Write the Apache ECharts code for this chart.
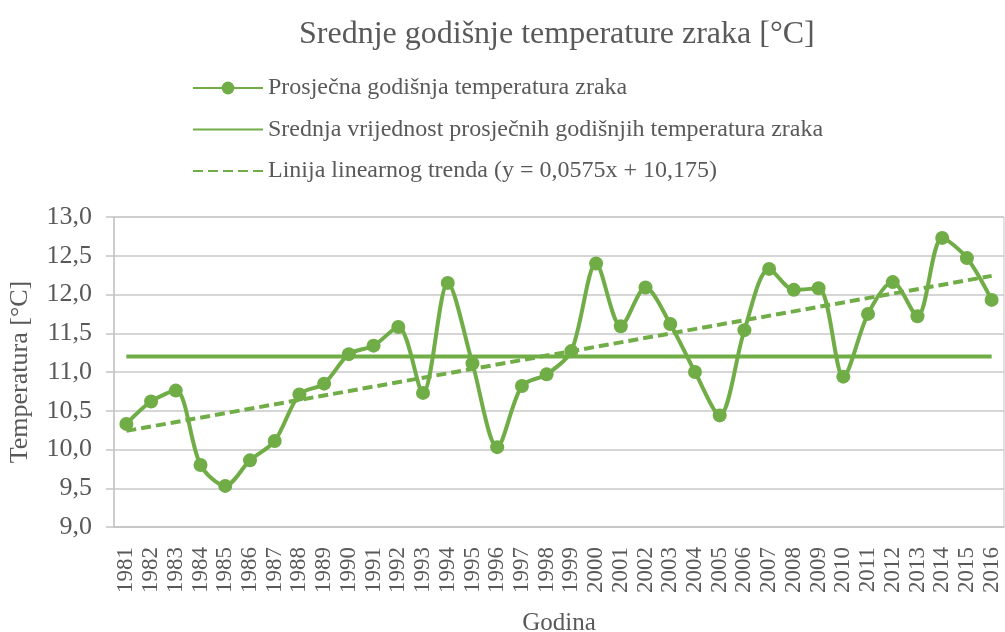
<!DOCTYPE html>
<html>
<head>
<meta charset="utf-8">
<script src="https://cdn.jsdelivr.net/npm/echarts@6/dist/echarts.min.js"></script>
<style>
  html, body { margin: 0; padding: 0; background: #fff; }
  #chart { width: 1005px; height: 632px; }
</style>
</head>
<body>
<div id="chart"></div>
<script>
// podaci
const years = ['1981', '1982', '1983', '1984', '1985', '1986', '1987', '1988', '1989', '1990',
  '1991', '1992', '1993', '1994', '1995', '1996', '1997', '1998', '1999', '2000',
  '2001', '2002', '2003', '2004', '2005', '2006', '2007', '2008', '2009', '2010',
  '2011', '2012', '2013', '2014', '2015', '2016']
const avgTemp = [10.33, 10.62, 10.76, 9.80, 9.53, 9.86, 10.11, 10.71, 10.85, 11.23,
  11.34, 11.58, 10.73, 12.15, 11.11, 10.03, 10.82, 10.97, 11.27, 12.40,
  11.59, 12.09, 11.62, 11.00, 10.44, 11.54, 12.33, 12.06, 12.08, 10.94,
  11.75, 12.16, 11.72, 12.73, 12.47, 11.93]
const meanTemp = 11.2
const trendEnds = [10.24, 12.24]  // prva i zadnja godina

const names = [
  'Prosječna godišnja temperatura zraka',
  'Srednja vrijednost prosječnih godišnjih temperatura zraka',
  'Linija linearnog trenda (y = 0,0575x + 10,175)'
]

const green = '#70AD47'
const gray = '#595959'
const serif = "'Liberation Serif', 'Times New Roman', serif"

const meanData = years.map(() => meanTemp)
const trendData = years.map((y, i) => i === 0 ? trendEnds[0] : (i === years.length - 1 ? trendEnds[1] : null))

var myChart = echarts.init(document.getElementById('chart'), null, { renderer: 'canvas' })
var option = {
  animation: false,
  backgroundColor: '#fff',
  title: {
    text: 'Srednje godišnje temperature zraka [°C]',
    left: 299,
    top: 19,
    padding: 0,
    textStyle: { fontFamily: serif, fontSize: 32, fontWeight: 'normal', color: gray }
  },
  legend: {
    orient: 'vertical',
    left: 192,
    top: 76,
    padding: 0,
    itemWidth: 70,
    itemHeight: 16,
    itemGap: 17.5,
    textStyle: { fontFamily: serif, fontSize: 24, color: gray },
    data: [
      { name: names[0] },
      { name: names[1], itemStyle: { color: 'transparent', borderWidth: 0 } },
      { name: names[2], itemStyle: { color: 'transparent', borderWidth: 0 } }
    ]
  },
  grid: {
    left: 114,
    right: 1,
    top: 217,
    bottom: 105,
    outerBoundsMode: 'none',
    containLabel: false,
    show: true,
    borderColor: '#c4c4c4',
    borderWidth: 1
  },
  xAxis: {
    type: 'category',
    data: years,
    name: 'Godina',
    nameLocation: 'middle',
    nameGap: 84,
    nameTextStyle: { fontFamily: serif, fontSize: 25, color: gray },
    axisLine: { lineStyle: { color: '#c4c4c4', width: 1.5 } },
    axisTick: { show: false },
    axisLabel: { rotate: 90, margin: 20, fontFamily: serif, fontSize: 23, color: gray, interval: 0 }
  },
  yAxis: {
    type: 'value',
    min: 9,
    max: 13,
    interval: 0.5,
    name: 'Temperatura [°C]',
    nameLocation: 'middle',
    nameGap: 81,
    nameRotate: 90,
    nameTextStyle: { fontFamily: serif, fontSize: 26, color: gray },
    axisLine: { show: true, lineStyle: { color: '#c4c4c4', width: 1.5 } },
    axisTick: { show: true, length: 8, lineStyle: { color: '#c4c4c4', width: 1.5 } },
    axisLabel: {
      margin: 22,
      fontFamily: serif,
      fontSize: 26,
      color: gray,
      formatter: v => v.toFixed(1).replace('.', ',')
    },
    splitLine: { lineStyle: { color: '#c8c8c8', width: 1.5 } }
  },
  series: [
    {
      name: names[1],
      type: 'line',
      data: meanData,
      symbol: 'none',
      lineStyle: { color: green, width: 4 },
      itemStyle: { color: green },
      z: 2
    },
    {
      name: names[2],
      type: 'line',
      data: trendData,
      connectNulls: true,
      symbol: 'none',
      lineStyle: { color: green, width: 4, type: [10, 5] },
      itemStyle: { color: green },
      z: 3
    },
    {
      name: names[0],
      type: 'line',
      data: avgTemp,
      smooth: 0.3,
      symbol: 'circle',
      symbolSize: 14,
      lineStyle: { color: green, width: 4 },
      itemStyle: { color: green },
      z: 4
    }
  ]
}

option && myChart.setOption(option)
</script>
</body>
</html>
